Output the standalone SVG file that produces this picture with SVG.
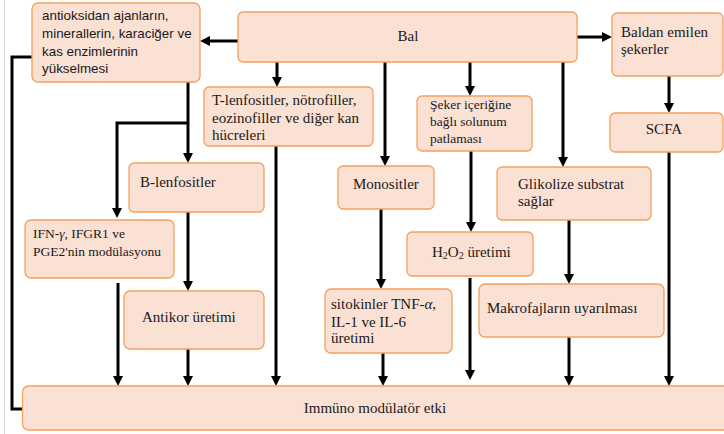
<svg xmlns="http://www.w3.org/2000/svg" width="724" height="434" viewBox="0 0 724 434">
  <style>
    .box { fill: #FBE0D4; stroke: #F5A05C; stroke-width: 1.3; }
    .serif { font-family: "Liberation Serif", "Times New Roman", serif; font-size: 15px; fill: #1a1a1a; }
    .small { font-size: 13.5px; }
    .sans { font-family: "Liberation Sans", Arial, sans-serif; font-size: 13.4px; fill: #1a1a1a; }
    .wire { fill: none; stroke: #000; stroke-width: 3; }
    .arrow { fill: none; stroke: #000; stroke-width: 3; marker-end: url(#head); }
    .frame { stroke: #d4d4d4; stroke-width: 1; }
  </style>
  <defs>
    <marker id="head" markerUnits="userSpaceOnUse" markerWidth="11" markerHeight="11" viewBox="0 0 11 11" refX="4" refY="5.5" orient="auto">
      <path d="M0,0.5 L10,5.5 L0,10.5 z" fill="#000"/>
    </marker>
  </defs>

  <rect width="724" height="434" fill="#fff"/>
  <line class="frame" x1="4.5" y1="0" x2="4.5" y2="434"/>

  <!-- connectors -->
  <g id="connectors">
    <line class="arrow" x1="238" y1="41" x2="206" y2="41"/>
    <line class="arrow" x1="577" y1="37" x2="606" y2="37"/>
    <line class="arrow" x1="669" y1="76" x2="669" y2="107"/>
    <line class="arrow" x1="277" y1="62" x2="277" y2="81"/>
    <line class="arrow" x1="385" y1="62" x2="385" y2="160"/>
    <line class="arrow" x1="470" y1="62" x2="470" y2="90"/>
    <line class="arrow" x1="563" y1="62" x2="563" y2="161"/>
    <line class="arrow" x1="188" y1="82" x2="188" y2="157"/>
    <path class="arrow" d="M188,123 H117 V212"/>
    <line class="arrow" x1="188" y1="212" x2="188" y2="285"/>
    <line class="arrow" x1="381" y1="209" x2="381" y2="283"/>
    <line class="arrow" x1="471" y1="151" x2="471" y2="226"/>
    <line class="arrow" x1="569" y1="220" x2="569" y2="278"/>
    <path class="wire" d="M32,57 H12 V409 H22.5"/>
    <line class="arrow" x1="118" y1="283" x2="118" y2="380"/>
    <line class="arrow" x1="188" y1="349" x2="188" y2="380"/>
    <line class="arrow" x1="276" y1="146" x2="276" y2="380"/>
    <line class="arrow" x1="383" y1="353" x2="383" y2="380"/>
    <line class="arrow" x1="470" y1="278" x2="470" y2="374"/>
    <line class="arrow" x1="569" y1="337" x2="569" y2="380"/>
    <line class="arrow" x1="669" y1="152" x2="669" y2="380"/>
  </g>

  <!-- nodes -->
  <g id="bal">
    <rect class="box" x="238" y="12" width="339" height="50" rx="5"/>
    <text class="serif" x="408" y="41" text-anchor="middle">Bal</text>
  </g>

  <g id="antioksidan">
    <rect class="box" x="32" y="3" width="168" height="79" rx="6"/>
    <text class="sans" x="42" y="20">antioksidan ajanların,</text>
    <text class="sans" x="42" y="38">minerallerin, karaciğer ve</text>
    <text class="sans" x="42" y="55.5">kas enzimlerinin</text>
    <text class="sans" x="42" y="73">yükselmesi</text>
  </g>

  <g id="baldan-emilen">
    <rect class="box" x="612" y="13" width="111" height="63" rx="5"/>
    <text class="serif" x="621" y="37">Baldan emilen</text>
    <text class="serif" x="621" y="54">şekerler</text>
  </g>

  <g id="scfa">
    <rect class="box" x="610" y="113" width="113" height="39" rx="5"/>
    <text class="serif" x="664" y="133.5" text-anchor="middle">SCFA</text>
  </g>

  <g id="t-lenfositler">
    <rect class="box" x="204" y="87" width="169" height="59" rx="5"/>
    <text class="serif" x="212" y="105">T-lenfositler, nötrofiller,</text>
    <text class="serif" x="212" y="122.5">eozinofiller ve diğer kan</text>
    <text class="serif" x="212" y="140">hücreleri</text>
  </g>

  <g id="seker">
    <rect class="box" x="417" y="96" width="115" height="55" rx="5"/>
    <text class="serif small" x="430" y="109">Şeker içeriğine</text>
    <text class="serif small" x="430" y="126">bağlı solunum</text>
    <text class="serif small" x="430" y="143">patlaması</text>
  </g>

  <g id="monositler">
    <rect class="box" x="338" y="166" width="96" height="43" rx="5"/>
    <text class="serif" x="353" y="189">Monositler</text>
  </g>

  <g id="glikolize">
    <rect class="box" x="497" y="167" width="154" height="53" rx="5"/>
    <text class="serif" x="518" y="189">Glikolize substrat</text>
    <text class="serif" x="518" y="206">sağlar</text>
  </g>

  <g id="b-lenfositler">
    <rect class="box" x="129" y="163" width="135" height="49" rx="5"/>
    <text class="serif" x="140" y="187">B-lenfositler</text>
  </g>

  <g id="ifn">
    <rect class="box" x="25" y="220" width="149" height="58" rx="6"/>
    <text class="serif small" x="33" y="238">IFN-<tspan font-style="italic">γ</tspan>, IFGR1 ve</text>
    <text class="serif small" x="33" y="256">PGE2'nin modülasyonu</text>
  </g>

  <g id="antikor">
    <rect class="box" x="124" y="291" width="140" height="58" rx="6"/>
    <text class="serif" x="142" y="322">Antikor üretimi</text>
  </g>

  <g id="h2o2">
    <rect class="box" x="407" y="232" width="126" height="44" rx="5"/>
    <text class="serif" x="432" y="257">H<tspan font-size="10" dy="1.5">2</tspan><tspan dy="-1.5">O</tspan><tspan font-size="10" dy="1.5">2</tspan><tspan dy="-1.5"> üretimi</tspan></text>
  </g>

  <g id="sitokinler">
    <rect class="box" x="325" y="289" width="127" height="64" rx="6"/>
    <text class="serif" x="331" y="309">sitokinler TNF-<tspan font-style="italic">α</tspan>,</text>
    <text class="serif" x="331" y="327">IL-1 ve IL-6</text>
    <text class="serif" x="331" y="343">üretimi</text>
  </g>

  <g id="makrofaj">
    <rect class="box" x="479" y="284" width="185" height="53" rx="6"/>
    <text class="serif" x="487" y="313">Makrofajların uyarılması</text>
  </g>

  <g id="immuno">
    <rect class="box" x="22.5" y="386" width="710" height="44" rx="6"/>
    <text class="serif" x="375" y="413" text-anchor="middle" font-size="14.5">Immüno modülatör etki</text>
  </g>
</svg>
